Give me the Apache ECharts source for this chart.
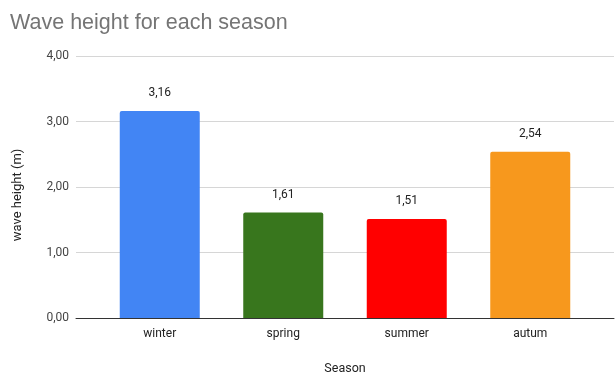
<!DOCTYPE html>
<html>
<head>
<meta charset="utf-8">
<script src="https://cdn.jsdelivr.net/npm/echarts@6/dist/echarts.min.js"></script>
<style>
  html, body { margin: 0; padding: 0; background: #fff; }
  #chart { width: 616px; height: 372px; }
</style>
</head>
<body>
<div id="chart"></div>
<script>
// Average wave height per season
const seasons = ['winter', 'spring', 'summer', 'autum'];
const waveHeights = [3.16, 1.61, 1.51, 2.54];
const barColors = ['#4285F4', '#38761D', '#FF0000', '#F7981D'];
const yTicks = [0, 1, 2, 3, 4];

const fmt = v => v.toFixed(2).replace('.', ',');
const labelFont = 'Roboto, "Liberation Sans", Arial, sans-serif';

const chart = echarts.init(document.getElementById('chart'), null, { renderer: 'canvas' });

chart.setOption({
  animation: false,
  backgroundColor: '#ffffff',
  title: {
    text: 'Wave height for each season',
    left: 5,
    top: 7,
    textStyle: {
      fontFamily: '"Liberation Sans", Arial, sans-serif',
      fontSize: 21.5,
      fontWeight: 'normal',
      color: '#757575'
    }
  },
  grid: [
    // full-width frame carrying the gridlines and value labels
    { left: 76, right: 2, top: 56, bottom: 54, containLabel: false, outerBoundsMode: 'none' },
    // inset area where the category bands sit
    { left: 98, right: 24, top: 56, bottom: 54, containLabel: false, outerBoundsMode: 'none' }
  ],
  xAxis: [
    {
      gridIndex: 0,
      type: 'value',
      min: 0,
      max: 1,
      axisLine: { show: true, lineStyle: { color: '#333333', width: 1 } },
      axisTick: { show: false },
      axisLabel: { show: false },
      splitLine: { show: false }
    },
    {
      gridIndex: 1,
      type: 'category',
      data: seasons,
      axisLine: { show: false },
      axisTick: { show: false },
      axisLabel: {
        margin: 10,
        fontFamily: labelFont,
        fontSize: 12,
        color: '#222222'
      },
      name: 'Season',
      nameLocation: 'middle',
      nameGap: 44,
      nameTextStyle: { fontFamily: labelFont, fontSize: 12.5, color: '#222222' }
    }
  ],
  yAxis: [
    {
      gridIndex: 0,
      type: 'value',
      min: yTicks[0],
      max: yTicks[yTicks.length - 1],
      interval: 1,
      axisLine: { show: false },
      axisTick: { show: false },
      axisLabel: {
        margin: 7,
        fontFamily: labelFont,
        fontSize: 12,
        color: '#444444',
        formatter: v => fmt(v)
      },
      splitLine: { show: true, lineStyle: { color: '#d6d6d6', width: 1 } },
      name: 'wave height (m)',
      nameLocation: 'middle',
      nameGap: 52,
      nameTextStyle: {
        fontFamily: labelFont,
        fontSize: 13,
        color: '#222222',
        padding: [0, 16, 0, 0]
      }
    },
    {
      gridIndex: 1,
      type: 'value',
      min: yTicks[0],
      max: yTicks[yTicks.length - 1],
      interval: 1,
      show: false
    }
  ],
  series: [
    {
      type: 'bar',
      xAxisIndex: 1,
      yAxisIndex: 1,
      barWidth: 80,
      data: waveHeights.map((v, i) => ({
        value: v,
        itemStyle: { color: barColors[i], borderRadius: [2, 2, 0, 0] }
      })),
      label: {
        show: true,
        position: 'top',
        distance: 12,
        fontFamily: labelFont,
        fontSize: 12,
        color: '#222222',
        formatter: p => fmt(p.value)
      }
    }
  ]
});
</script>
</body>
</html>
